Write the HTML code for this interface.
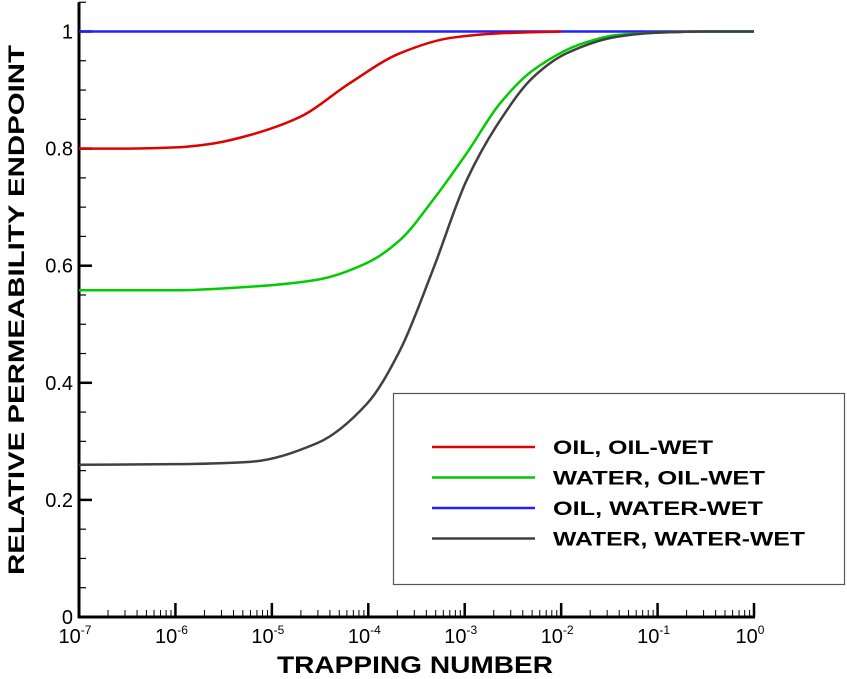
<!DOCTYPE html>
<html><head><meta charset="utf-8"><style>
body{margin:0;background:#fff;}
svg{display:block;font-family:"Liberation Sans",Arial,sans-serif;}
</style></head><body>
<svg id="chart" width="847" height="679">
<g id="axes"></g>
<g id="series"></g>
<text x="18" y="310" transform="rotate(-90 18 310)" text-anchor="middle" dominant-baseline="middle" font-size="22" font-weight="bold" textLength="530" lengthAdjust="spacingAndGlyphs">RELATIVE PERMEABILITY ENDPOINT</text>
<text x="415" y="673" text-anchor="middle" font-size="24" font-weight="bold" textLength="276" lengthAdjust="spacingAndGlyphs">TRAPPING NUMBER</text>
<rect x="393.5" y="393.5" width="451" height="191" fill="#fff" stroke="#555" stroke-width="1.2"/>
<g id="legend"></g>
</svg>
<script>
const seriesNames=["OIL, OIL-WET","WATER, OIL-WET","OIL, WATER-WET","WATER, WATER-WET"];
const seriesColors=["#e00000","#00cc00","#2020ff","#404040"];
const legendWidths=[160,212,210,252];
const redX=[-7,-6.5,-6,-5.6,-5.23,-4.71,-4.19,-3.67,-3.15,-2.63,-2];
const redY=[0.80,0.80,0.802,0.809,0.823,0.854,0.912,0.963,0.989,0.997,1.0];
const greenX=[-7,-6,-5.23,-4.53,-4.01,-3.67,-3.33,-2.98,-2.63,-2.29,-1.77,-1.42,-1,-0.5,0];
const greenY=[0.558,0.558,0.564,0.576,0.605,0.644,0.712,0.792,0.878,0.934,0.98,0.994,0.998,1.0,1.0];
const blueX=[-7,0];
const blueY=[1,1];
const grayX=[-7,-6,-5.23,-4.53,-4.01,-3.67,-3.33,-2.98,-2.63,-2.29,-1.94,-1.42,-1,-0.5,0];
const grayY=[0.26,0.261,0.265,0.297,0.365,0.456,0.593,0.746,0.849,0.922,0.963,0.991,0.998,1.0,1.0];
const yTicks=[0,0.2,0.4,0.6,0.8,1];
const yTickLabels=["0","0.2","0.4","0.6","0.8","1"];
const xDecades=[-7,-6,-5,-4,-3,-2,-1,0];

const NS="http://www.w3.org/2000/svg";
const X0=79,DEC=96.43,Y0=617,YS=585.5;
function xs(l){return X0+(l+7)*DEC;}
function ys(v){return Y0-v*YS;}
function mk(t,a,p){const e=document.createElementNS(NS,t);for(const k in a)e.setAttribute(k,a[k]);p.appendChild(e);return e;}
const axes=document.getElementById('axes');
let l=mk('line',{x1:X0,y1:ys(1.05),x2:X0,y2:Y0+1,stroke:'#000','stroke-width':3},axes);


l=mk('line',{x1:X0-1,y1:Y0,x2:xs(0)+1,y2:Y0,stroke:'#000','stroke-width':3},axes);


for(let i=0;i<=21;i++){const v=i*0.05;const major=i%4===0;
 mk('line',{x1:X0,y1:ys(v),x2:X0+(major?13:7),y2:ys(v),stroke:'#000','stroke-width':major?2.5:1.2},axes);}
yTicks.forEach((v,i)=>{const t=mk('text',{x:X0-6,y:ys(v)+7,'text-anchor':'end','font-size':20},axes);t.textContent=yTickLabels[i];
 
 });
xDecades.forEach(d=>{
 mk('line',{x1:xs(d),y1:Y0,x2:xs(d),y2:Y0-14,stroke:'#000','stroke-width':2.5},axes);
 if(d<0){for(let m=2;m<=9;m++){const x=xs(d+Math.log10(m));mk('line',{x1:x,y1:Y0,x2:x,y2:Y0-7,stroke:'#000','stroke-width':1},axes);}}
 const t=mk('text',{x:xs(d)-4,y:643,'text-anchor':'middle','font-size':20},axes);
 
 
 t.textContent='10';const s=mk('tspan',{dy:-9,'font-size':12},t);s.textContent=String(d);
});
function monoPath(pts){
 const n=pts.length;if(n<3)return 'M'+pts.map(p=>p.join(',')).join(' L');
 const dx=[],dy=[],m=[];
 for(let i=0;i<n-1;i++){dx.push(pts[i+1][0]-pts[i][0]);dy.push(pts[i+1][1]-pts[i][1]);m.push(dy[i]/dx[i]);}
 const t=[m[0]];
 for(let i=1;i<n-1;i++){t.push(m[i-1]*m[i]<=0?0:3*(dx[i-1]+dx[i])/((2*dx[i]+dx[i-1])/m[i-1]+(dx[i]+2*dx[i-1])/m[i]));}
 t.push(m[n-2]);
 let d='M'+pts[0][0]+','+pts[0][1];
 for(let i=0;i<n-1;i++){const h=dx[i]/3;
  d+=' C'+(pts[i][0]+h)+','+(pts[i][1]+t[i]*h)+' '+(pts[i+1][0]-h)+','+(pts[i+1][1]-t[i+1]*h)+' '+pts[i+1][0]+','+pts[i+1][1];}
 return d;
}
const ser=document.getElementById('series');
const data=[[redX,redY],[greenX,greenY],[blueX,blueY],[grayX,grayY]];
const order=[2,0,1,3];
order.forEach(i=>{const [xa,ya]=data[i];
 const pts=xa.map((x,j)=>[xs(x),ys(ya[j])]);
 const p=mk('path',{d:monoPath(pts),fill:'none',stroke:seriesColors[i],'stroke-width':2.5},ser);
 
 
});
const leg=document.getElementById('legend');
seriesNames.forEach((n,i)=>{const y=447+i*30.5;
 const ln=mk('line',{x1:432,y1:y,x2:535,y2:y,stroke:seriesColors[i],'stroke-width':2.5},leg);
 
 
 const t=mk('text',{x:553,y:y+7,'font-size':19,'font-weight':'bold',textLength:legendWidths[i],lengthAdjust:'spacingAndGlyphs'},leg);t.textContent=n;
 
 
});
</script>
</body></html>
